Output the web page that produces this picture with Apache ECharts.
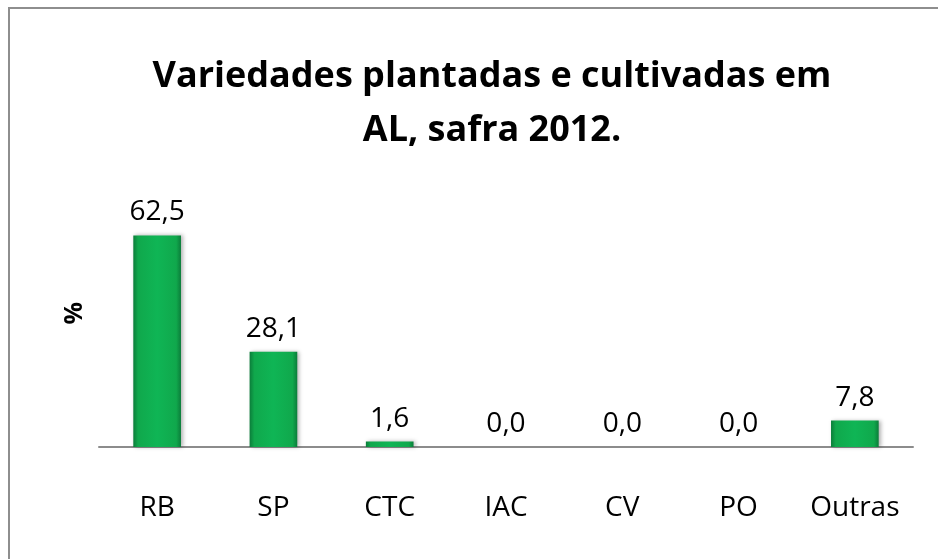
<!DOCTYPE html>
<html>
<head>
<meta charset="utf-8">
<script src="https://cdn.jsdelivr.net/npm/echarts@6/dist/echarts.min.js"></script>
<style>
  html, body { margin: 0; padding: 0; background: #fff; overflow: hidden; }
  #frame {
    position: absolute; left: 8px; top: 7px; width: 1000px; height: 1000px;
    border: 2px solid #8e8e8e; box-sizing: border-box;
  }
  #chart { position: absolute; left: 0; top: 0; width: 938px; height: 559px; }
</style>
</head>
<body>
<div id="frame"></div>
<div id="chart"></div>
<script>
// dados da safra 2012
const categories = ["RB", "SP", "CTC", "IAC", "CV", "PO", "Outras"];
const percentages = [62.5, 28.1, 1.6, 0.0, 0.0, 0.0, 7.8];
const titleLines = ["Variedades plantadas e cultivadas em", "AL, safra 2012."];

const myChart = echarts.init(document.getElementById("chart"));

const barFill = new echarts.graphic.LinearGradient(0, 0, 1, 0, [
  { offset: 0, color: "#0b7d3a" },
  { offset: 0.1, color: "#10a84c" },
  { offset: 0.5, color: "#0fb555" },
  { offset: 0.9, color: "#10a84c" },
  { offset: 1, color: "#0b7d3a" },
]);

const option = {
  animation: false,
  title: {
    text: titleLines.join("\n"),
    left: 487,
    top: 45,
    textAlign: "center",
    textStyle: {
      fontFamily: "Open Sans",
      fontSize: 36,
      fontWeight: "bold",
      color: "#000",
      lineHeight: 54,
    },
  },
  // "%" no eixo vertical
  graphic: [
    {
      type: "text",
      left: 62,
      top: 302,
      rotation: Math.PI / 2,
      style: {
        text: "%",
        font: "bold 25px 'Open Sans'",
        fill: "#000",
      },
    },
  ],
  grid: {
    left: 99,
    right: 25,
    top: 210,
    bottom: 112,
  },
  xAxis: {
    type: "category",
    data: categories,
    axisLine: { lineStyle: { color: "#8c8c8c", width: 2 } },
    axisTick: { show: false },
    axisLabel: {
      interval: 0,
      margin: 47,
      fontFamily: "Open Sans",
      fontSize: 28,
      color: "#000",
    },
  },
  yAxis: {
    type: "value",
    min: 0,
    max: 70,
    axisLine: { show: false },
    axisTick: { show: false },
    axisLabel: { show: false },
    splitLine: { show: false },
  },
  series: [
    {
      type: "bar",
      data: percentages,
      barWidth: "41%",
      itemStyle: {
        color: barFill,
        shadowColor: "rgba(0,0,0,0.3)",
        shadowBlur: 4,
        shadowOffsetX: 2,
      },
      label: {
        show: true,
        position: "top",
        distance: 9,
        fontFamily: "Open Sans",
        fontSize: 28,
        color: "#000",
        formatter: (p) => p.value.toFixed(1).replace(".", ","),
      },
    },
  ],
};

myChart.setOption(option);
</script>
</body>
</html>
